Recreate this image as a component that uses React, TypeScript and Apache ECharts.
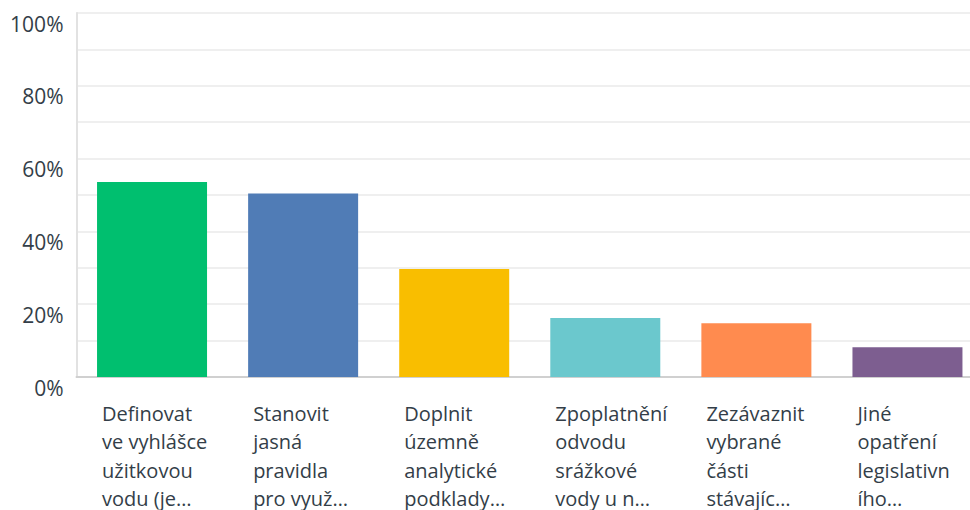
import React, { useEffect, useRef } from "react";
import * as echarts from "echarts";

const categories: string[] = [
  "Definovat\nve vyhlášce\nužitkovou\nvodu (je…",
  "Stanovit\njasná\npravidla\npro využ…",
  "Doplnit\núzemně\nanalytické\npodklady…",
  "Zpoplatnění\nodvodu\nsrážkové\nvody u n…",
  "Zezávaznit\nvybrané\nčásti\nstávajíc…",
  "Jiné\nopatření\nlegislativn\ního…",
];
const values: number[] = [53.6, 50.4, 29.7, 16.2, 14.8, 8.2];
const barColors: string[] = ["#00bf6f", "#507cb6", "#f9be00", "#6bc8cd", "#ff8b4f", "#7d5e90"];

const FONT = "'Open Sans', sans-serif";
const TEXT = "#333e48";

export default function App() {
  const ref = useRef<HTMLDivElement>(null);
  useEffect(() => {
    document.body.style.margin = "0";
    document.body.style.overflow = "hidden";
    document.documentElement.style.overflow = "hidden";
    if (!ref.current) return;
    const chart = echarts.init(ref.current, undefined, { renderer: "svg" });
    chart.setOption({
      animation: false,
      grid: { left: 76.5, top: 13, right: 0, bottom: 133, containLabel: false },
      xAxis: {
        type: "category",
        data: categories,
        axisTick: { show: false },
        axisLine: { show: true, lineStyle: { color: "#d0d0d0", width: 2 } },
        axisLabel: {
          interval: 0,
          margin: 22,
          formatter: (v: string) => v.split("\n").map((l) => "{a|" + l + "}").join("\n"),
          rich: {
            a: {
              width: 100,
              align: "left",
              fontSize: 20,
              lineHeight: 28.5,
              color: TEXT,
              fontFamily: FONT,
            },
          },
        },
      },
      yAxis: {
        type: "value",
        min: 0,
        max: 100,
        interval: 10,
        axisLine: { show: true, lineStyle: { color: "#e2e2e2", width: 2 } },
        axisTick: { show: false },
        splitLine: { show: true, lineStyle: { color: "#efefef", width: 2 } },
        axisLabel: {
          margin: 13,
          verticalAlign: "top",
          padding: [0, 0, 0, 0],
          fontSize: 21,
          color: TEXT,
          fontFamily: FONT,
          formatter: (v: number) => (v % 20 === 0 ? v + "%" : ""),
        },
      },
      series: [
        {
          type: "bar",
          barWidth: 110,
          data: values.map((v, i) => ({ value: v, itemStyle: { color: barColors[i] } })),
        },
      ],
    });
    return () => chart.dispose();
  }, []);
  return (
    <div style={{ width: 970, height: 510, overflow: "hidden" }}>
      <div ref={ref} style={{ width: 982.5, height: 510 }} />
    </div>
  );
}
